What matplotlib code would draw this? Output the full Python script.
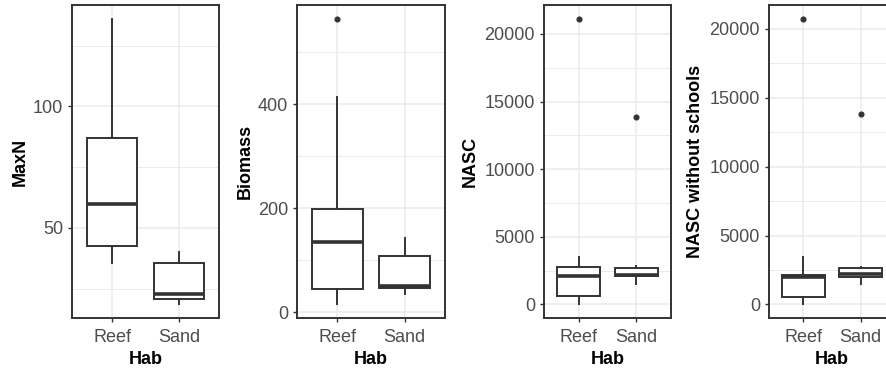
import matplotlib
matplotlib.use("Agg")
import matplotlib.pyplot as plt
from matplotlib.ticker import FixedLocator

plt.rcParams['font.family'] = ['Liberation Sans', 'DejaVu Sans']

habitats = ["Reef", "Sand"]

# Five-number summaries per habitat: whisker low, Q1, median, Q3, whisker high
maxn_reef = [35.7, 42.6, 59.8, 87.1, 135.9]
maxn_sand = [18.8, 20.6, 22.7, 35.7, 40.1]
maxn_out = [[], []]

biomass_reef = [16, 43.8, 135, 199.4, 415]
biomass_sand = [35, 46, 51, 107.5, 143]
biomass_out = [[564], []]

nasc_reef = [52, 643, 2100, 2788, 3528]
nasc_sand = [1509, 2071, 2197, 2663, 2840]
nasc_out = [[21080], [13831]]

nasc_ns_reef = [51, 537, 1975, 2134, 3412]
nasc_ns_sand = [1481, 1960, 2229, 2614, 2737]
nasc_ns_out = [[20697], [13798]]

panels = [
    ("MaxN", [maxn_reef, maxn_sand], maxn_out, [50, 100], [25, 75, 125]),
    ("Biomass", [biomass_reef, biomass_sand], biomass_out, [0, 200, 400], [100, 300, 500]),
    ("NASC", [nasc_reef, nasc_sand], nasc_out,
     [0, 5000, 10000, 15000, 20000], [2500, 7500, 12500, 17500]),
    ("NASC without schools", [nasc_ns_reef, nasc_ns_sand], nasc_ns_out,
     [0, 5000, 10000, 15000, 20000], [2500, 7500, 12500, 17500]),
]

W, H = 886, 372
fig = plt.figure(figsize=(W / 100, H / 100), dpi=100)
fig.patch.set_facecolor("white")

# panel boxes in pixels: (left, right), plus y-label centre x
boxes = [(72, 219, 20), (297, 445, 245.5), (544, 671, 470.5), (769, 895, 695.5)]
top_px, bot_px = 5, 318

line_col = "#333333"
grid_col = "#EBEBEB"
tick_col = "#4D4D4D"

for (label, stats5, outs, majors, minors), (l, r, ylab_x) in zip(panels, boxes):
    ax = fig.add_axes([l / W, (H - bot_px) / H, (r - l) / W, (bot_px - top_px) / H])
    stats = []
    for s, o, name in zip(stats5, outs, habitats):
        stats.append(dict(whislo=s[0], q1=s[1], med=s[2], q3=s[3], whishi=s[4],
                          fliers=o, label=name))
    ax.bxp(stats, positions=[1, 2], widths=0.75, showcaps=False, patch_artist=True,
           boxprops=dict(facecolor="white", edgecolor=line_col, linewidth=1.4),
           whiskerprops=dict(color=line_col, linewidth=1.4),
           medianprops=dict(color=line_col, linewidth=2.6, solid_capstyle="butt"),
           flierprops=dict(marker="o", markersize=3.4, markerfacecolor=line_col,
                           markeredgecolor=line_col), zorder=3)

    # data range with 5% padding
    vals = [v for s in stats5 for v in s] + [v for o in outs for v in o]
    lo, hi = min(vals), max(vals)
    pad = (hi - lo) * 0.05
    ax.set_ylim(lo - pad, hi + pad)
    ax.set_xlim(0.4, 2.6)

    ax.set_yticks(majors)
    ax.yaxis.set_minor_locator(FixedLocator(minors))
    ax.set_xticks([1, 2])
    ax.set_xticklabels(habitats)
    ax.xaxis.set_minor_locator(FixedLocator([]))

    ax.set_axisbelow(True)
    ax.grid(True, which="major", color=grid_col, linewidth=1.1)
    ax.grid(True, which="minor", axis="y", color=grid_col, linewidth=0.7)
    ax.tick_params(which="minor", length=0)
    ax.tick_params(which="major", length=3, width=1.0, color=line_col,
                   labelsize=13, labelcolor=tick_col)
    ax.tick_params(axis="x", pad=5)
    ax.tick_params(axis="y", pad=3.4)

    for sp in ax.spines.values():
        sp.set_color(line_col)
        sp.set_linewidth(1.4)

    ax.set_ylabel(label, fontsize=13, fontweight="bold", color="black")
    ax.set_xlabel("Hab", fontsize=13, fontweight="bold", color="black")
    ax.yaxis.set_label_coords((ylab_x - l) / (r - l), 0.5)
    ax.xaxis.set_label_coords(0.5, (bot_px - 359) / (bot_px - top_px))
    ax.xaxis.label.set_va("center")
    ax.yaxis.label.set_va("center")

fig.savefig("out.png", dpi=100, facecolor="white")
